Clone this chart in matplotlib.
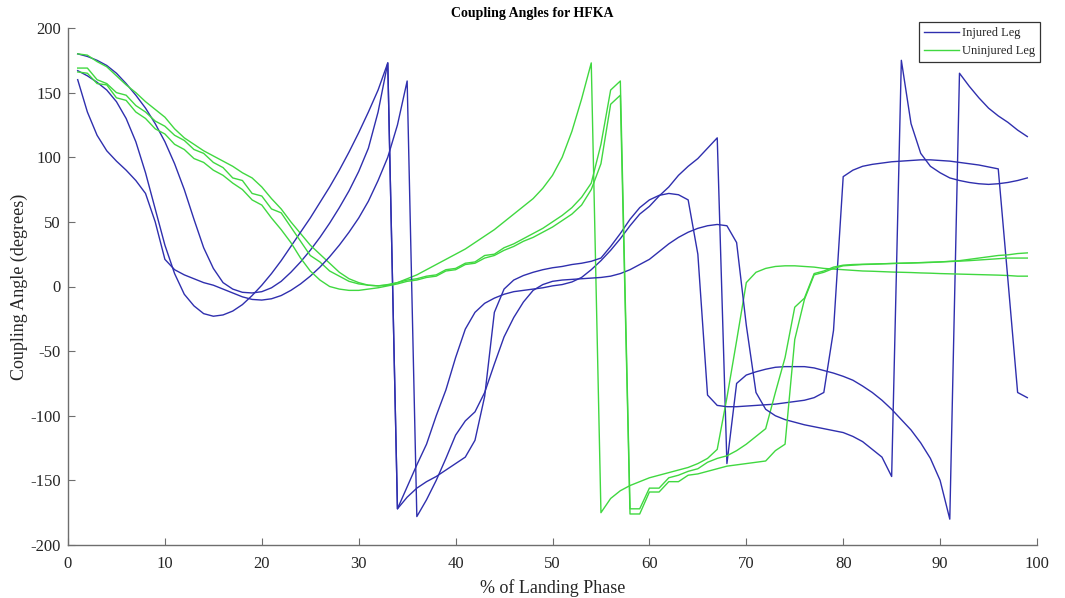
import matplotlib
matplotlib.use('Agg')
import matplotlib.pyplot as plt

plt.rcParams['axes.unicode_minus'] = False

# % of landing phase (samples 1..99)
phase = list(range(1, 100))

injured_a = [180, 178, 175, 171, 165, 157, 148, 138, 126, 112,
             95, 75, 52, 30, 14, 3, -2, -4.5, -5, -4,
             -1, 4, 11, 19, 28, 38, 49, 61, 74, 89,
             107, 135, 173, -172, -155, -138, -122, -100, -80, -55,
             -33, -20, -13, -9, -6, -4, -3, -2, -1, 0.5,
             1.5, 3.5, 7, 13, 20, 28, 37, 47, 56, 62,
             70, 77, 86, 93, 99, 107, 115, -137, -75, -68.5,
             -66, -64, -62.5, -62, -62, -62, -63, -65, -67, -69.5,
             -72.5, -77, -82, -88, -95, -103, -111, -121, -133, -150,
             -180, 165, 155, 146, 138, 132, 127, 121, 116]

injured_b = [167, 163, 158, 152, 143, 130, 112, 88, 60, 32,
             10, -6, -15, -21, -23, -22, -19, -14, -7, 1,
             10, 20, 31, 42, 53, 65, 77, 90, 104, 119,
             135, 152, 173, -172, -163, -156, -151, -147, -142, -137,
             -132, -119, -85, -20, -2, 5, 8.5, 11, 13, 14.5,
             15.5, 17, 18, 19.5, 22, 31, 41, 52, 61, 67,
             70.5, 72, 71, 67, 25, -84, -92, -93, -93, -92.5,
             -92, -91.5, -91, -90, -89, -88, -86, -82, -34, 85,
             90, 93, 94.5, 95.5, 96.5, 97, 97.5, 98, 98, 97.5,
             97, 96, 95, 94, 92.5, 91, 5, -82, -86]

injured_c = [160, 135, 117, 105, 97, 90, 82, 72, 50, 21,
             13, 9, 6, 3, 1, -2, -5, -8, -10, -10.5,
             -9.5, -7, -3, 2, 8, 15, 23, 32, 42, 53,
             66, 82, 100, 125, 159, -178, -165, -150, -133, -115,
             -104, -97, -82, -60, -39, -24, -12, -3, 1.5, 4,
             5, 5.5, 6, 6.5, 7, 8, 10, 13, 17, 21,
             27, 33, 38, 42, 45, 47, 48, 47, 34, -30,
             -82, -95, -100, -103, -105, -107, -108.5, -110, -111.5, -113,
             -116, -120, -126, -132, -147, 175, 126, 103, 93, 88,
             84, 82, 80.5, 79.5, 79, 79.5, 80.5, 82, 84]

uninjured_a = [180, 179, 174, 170, 163, 156, 150, 143, 137, 131,
               122, 115, 110, 105, 101, 97, 93, 88, 84, 77,
               68, 60, 50, 41, 32, 25, 18, 11, 6, 3,
               1, 0.5, 1, 3, 6, 9, 13, 17, 21, 25,
               29, 34, 39, 44, 50, 56, 62, 68, 76, 86,
               100, 120, 145, 173, -175, -164, -158, -154, -151, -148,
               -146, -144, -142, -140, -137, -133, -126, -86, -42, 3,
               11, 14, 15.5, 16, 16, 15.5, 15, 14, 13.5, 13,
               12.5, 12, 11.8, 11.5, 11.2, 11, 10.8, 10.5, 10.3, 10,
               9.8, 9.6, 9.4, 9.2, 9, 8.8, 8.5, 8, 8]

uninjured_b = [169, 169, 160, 157, 150, 148, 140, 135, 128, 124,
               117, 113, 106, 103, 96, 92, 84, 82, 72, 70,
               60, 57, 46, 35, 24, 19, 12, 8, 4, 2,
               1, 0.5, 1.5, 3, 5, 6, 8, 9, 13, 14,
               18, 19, 24, 25, 30, 33, 37, 41, 45, 50,
               55, 61, 69, 80, 110, 152, 159, -172, -172, -156,
               -156, -148, -146, -143, -141, -136, -133, -131, -127, -122,
               -116, -110, -82, -55, -16, -9, 10, 12, 15, 16.5,
               17, 17.2, 17.4, 17.6, 17.8, 18, 18.2, 18.4, 18.6, 19,
               19.5, 20, 21, 22, 23, 24, 24.5, 25.5, 26]

uninjured_c = [166, 165, 157, 156, 146, 144, 135, 130, 122, 118,
               110, 106, 99, 96, 90, 86, 80, 75, 67, 63,
               53, 44, 34, 22, 12, 5, 0, -2, -3, -3,
               -2, -1, 0.5, 2, 4, 5, 7, 8, 12, 13,
               17, 18, 22, 24, 28, 31, 35, 38, 42, 46,
               51, 56, 63, 75, 95, 141, 148, -176, -176, -159,
               -159, -151, -151, -146, -145, -143, -141, -139, -138, -137,
               -136, -135, -127, -122, -41, -10, 9, 11, 14, 16,
               16.5, 17, 17.2, 17.5, 17.8, 18, 18.2, 18.5, 18.8, 19,
               19.3, 19.6, 20, 20.5, 21, 21.5, 22, 22, 22]

x_ticks = list(range(0, 101, 10))
y_ticks = list(range(-200, 201, 50))

blue = '#2f2fae'
green = '#40d840'
serif = ['Liberation Serif', 'DejaVu Serif']
txt = '#262626'

W, H = 1065, 598
fig = plt.figure(figsize=(W / 100, H / 100), dpi=100)
ax = fig.add_axes([68 / W, 1 - 545 / H, (1037 - 68) / W, (545 - 28) / H])

h_inj, = ax.plot(phase, injured_a, color=blue, lw=1.0)
h_uninj, = ax.plot(phase, uninjured_a, color=green, lw=1.0)
ax.plot(phase, injured_b, color=blue, lw=1.0)
ax.plot(phase, uninjured_b, color=green, lw=1.0)
ax.plot(phase, injured_c, color=blue, lw=1.0)
ax.plot(phase, uninjured_c, color=green, lw=1.0)

ax.set_xlim(0, 100)
ax.set_ylim(-200, 200)
ax.set_xticks(x_ticks)
ax.set_yticks(y_ticks)
for s in ['top', 'right']:
    ax.spines[s].set_visible(False)
for s in ['left', 'bottom']:
    ax.spines[s].set_color('#6e6e6e')
    ax.spines[s].set_linewidth(1.0)
ax.tick_params(direction='in', length=5, width=0.8, color='#6e6e6e',
               labelsize=12, labelcolor=txt)
ax.tick_params(axis='x', pad=8)
ax.tick_params(axis='y', pad=5)
for lab in ax.get_xticklabels() + ax.get_yticklabels():
    lab.set_family(serif)

ax.set_xlabel('% of Landing Phase', family=serif, fontsize=13, color=txt, labelpad=5)
ax.set_ylabel('Coupling Angle (degrees)', family=serif, fontsize=13, color=txt, labelpad=2)
fig.text(0.5, 1 - 13 / H, 'Coupling Angles for HFKA', family=serif, fontsize=10,
         fontweight='bold', ha='center', va='center', color='black')

leg = ax.legend([h_inj, h_uninj], ['Injured Leg', 'Uninjured Leg'],
                loc='upper right', bbox_to_anchor=(1040 / W, 1 - 22 / H),
                bbox_transform=fig.transFigure, fancybox=False, framealpha=1,
                edgecolor='#333333', prop={'family': serif, 'size': 9},
                handlelength=2.8, handletextpad=0.25, borderpad=0.4,
                labelspacing=0.5, borderaxespad=0)
leg.get_frame().set_linewidth(0.9)
for t in leg.get_texts():
    t.set_color(txt)

fig.savefig('out.png', dpi=100, facecolor='white')
